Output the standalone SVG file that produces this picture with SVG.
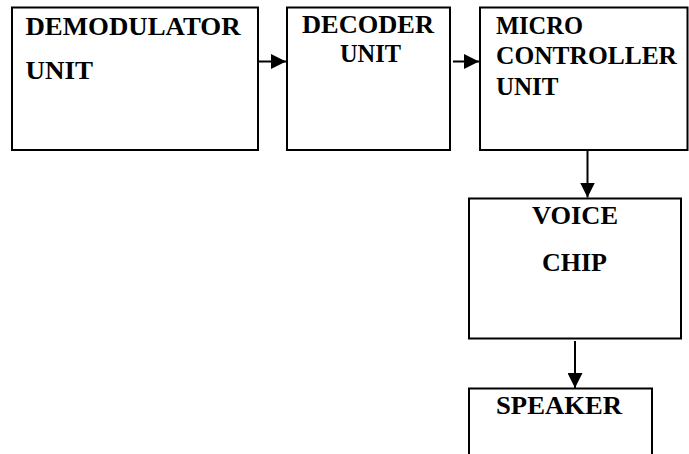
<svg xmlns="http://www.w3.org/2000/svg" width="689" height="454" viewBox="0 0 689 454">
  <style>
    .box { fill: #ffffff; stroke: #000000; stroke-width: 2; }
    .lbl { font-family: "Liberation Serif", "Times New Roman", serif; font-weight: bold; font-size: 24.5px; fill: #000000; }
    .conn { stroke: #000000; stroke-width: 2; fill: none; marker-end: url(#arrow); }
  </style>
  <defs>
    <marker id="arrow" markerUnits="userSpaceOnUse" markerWidth="15" markerHeight="15" viewBox="0 0 15 15" refX="15" refY="7.5" orient="auto">
      <path d="M0,0 L15,7.5 L0,15 Z" fill="#000000"/>
    </marker>
  </defs>
  <rect width="689" height="454" fill="#ffffff"/>

  <g id="demodulator">
    <rect class="box" x="12" y="7.5" width="246" height="142.5"/>
    <text class="lbl" x="25.5" y="34.5" textLength="215" lengthAdjust="spacingAndGlyphs">DEMODULATOR</text>
    <text class="lbl" x="25.5" y="79" textLength="67.5" lengthAdjust="spacingAndGlyphs">UNIT</text>
  </g>

  <g id="decoder">
    <rect class="box" x="287" y="7.5" width="163" height="142.5"/>
    <text class="lbl" x="302" y="33" textLength="132" lengthAdjust="spacingAndGlyphs">DECODER</text>
    <text class="lbl" x="340" y="62" textLength="61" lengthAdjust="spacingAndGlyphs">UNIT</text>
  </g>

  <g id="microcontroller">
    <rect class="box" x="480" y="7.5" width="207.5" height="142.5"/>
    <text class="lbl" x="496" y="33.5" textLength="87" lengthAdjust="spacingAndGlyphs">MICRO</text>
    <text class="lbl" x="496" y="63.5" textLength="181" lengthAdjust="spacingAndGlyphs">CONTROLLER</text>
    <text class="lbl" x="496" y="95" textLength="62.5" lengthAdjust="spacingAndGlyphs">UNIT</text>
  </g>

  <g id="voicechip">
    <rect class="box" x="469" y="198.5" width="212" height="140"/>
    <text class="lbl" x="532" y="223.5" textLength="86" lengthAdjust="spacingAndGlyphs">VOICE</text>
    <text class="lbl" x="542" y="271" textLength="65" lengthAdjust="spacingAndGlyphs">CHIP</text>
  </g>

  <g id="speaker">
    <rect class="box" x="469" y="388.5" width="183" height="80"/>
    <text class="lbl" x="496" y="413.5" textLength="126" lengthAdjust="spacingAndGlyphs">SPEAKER</text>
  </g>

  <g id="connectors">
    <line class="conn" x1="258" y1="61.5" x2="286" y2="61.5"/>
    <line class="conn" x1="453" y1="61.5" x2="479" y2="61.5"/>
    <line class="conn" x1="587.5" y1="150" x2="587.5" y2="197.5"/>
    <line class="conn" x1="575" y1="341" x2="575" y2="388"/>
  </g>
</svg>
